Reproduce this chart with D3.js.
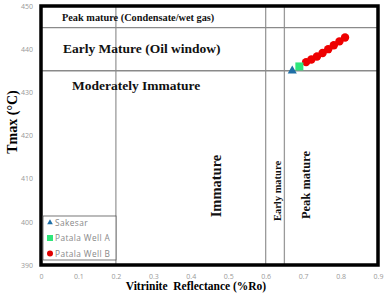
<!DOCTYPE html>
<html>
<head>
<meta charset="utf-8">
<script src="https://cdn.jsdelivr.net/npm/d3@7"></script>
<style>
  body { margin: 0; background: #fff; }
</style>
</head>
<body>
<div id="chart"></div>
<script>
// data
const xTicks = [0, 0.1, 0.2, 0.3, 0.4, 0.5, 0.6, 0.7, 0.8, 0.9];
const yTicks = [390, 400, 410, 420, 430, 440, 450];
const vLines = [0.2, 0.6, 0.65];
const hLines = [445, 435];
const sakesar = [[0.671, 435]];
const patalaA = [[0.69, 436]];
const patalaB = [[0.708, 437], [0.722, 437.6], [0.737, 438.3], [0.752, 439.1],
                 [0.767, 440], [0.782, 440.9], [0.797, 441.8], [0.812, 442.7]];
const legendNames = ["Sakesar", "Patala Well A", "Patala Well B"];

const width = 387, height = 293;
const margin = { top: 6, right: 9, bottom: 28, left: 41 };

const svg = d3.select("#chart").append("svg")
    .attr("width", width)
    .attr("height", height);

const x = d3.scaleLinear().domain([0, 0.9]).range([margin.left, width - margin.right]);
const y = d3.scaleLinear().domain([390, 450]).range([height - margin.bottom, margin.top]);

// grid lines
svg.selectAll(".vl").data(vLines).enter().append("line")
    .attr("x1", d => x(d)).attr("x2", d => x(d))
    .attr("y1", y(450)).attr("y2", y(390))
    .attr("stroke", "#9a9a9a").attr("stroke-width", 1.3);
svg.selectAll(".hl").data(hLines).enter().append("line")
    .attr("x1", x(0)).attr("x2", x(0.9))
    .attr("y1", d => y(d)).attr("y2", d => y(d))
    .attr("stroke", "#8a8a8a").attr("stroke-width", 1.3);

// axes (text only)
const xAxis = svg.append("g")
    .attr("transform", `translate(0, ${y(390)})`)
    .call(d3.axisBottom(x).tickValues(xTicks).tickSize(0).tickPadding(9).tickFormat(d => d === 0 ? "0" : d3.format(".1f")(d)));
const yAxis = svg.append("g")
    .attr("transform", `translate(${x(0)}, 0)`)
    .call(d3.axisLeft(y).tickValues(yTicks).tickSize(0).tickPadding(8));
[xAxis, yAxis].forEach(a => {
    a.select(".domain").remove();
    a.selectAll("text").attr("fill", "#999").style("font-family", "Open Sans, sans-serif").style("font-size", "7px");
});

// frame
svg.append("rect")
    .attr("x", x(0)).attr("y", y(450))
    .attr("width", x(0.9) - x(0)).attr("height", y(390) - y(450))
    .attr("fill", "none").attr("stroke", "#000").attr("stroke-width", 3.5);

// zone labels
const serif = "Liberation Serif, Times New Roman, serif";
const zoneText = (tx, ty, txt, size, rot) => {
    svg.append("text")
        .attr("transform", `translate(${tx},${ty})` + (rot ? " rotate(-90)" : ""))
        .attr("text-anchor", rot ? "middle" : "start")
        .attr("font-family", serif).attr("font-weight", "bold")
        .attr("font-size", size).attr("fill", "#111")
        .text(txt);
};
zoneText(62, 21, "Peak mature (Condensate/wet gas)", 10.3);
zoneText(63, 53, "Early Mature (Oil window)", 13.5);
zoneText(72, 90, "Moderately Immature", 13.5);
zoneText(221, 186, "Immature", 14.5, true);
zoneText(281, 191, "Early mature", 10.5, true);
zoneText(310, 185, "Peak mature", 12.5, true);

// axis titles
svg.append("text")
    .attr("transform", `translate(17, 122) rotate(-90)`)
    .attr("text-anchor", "middle")
    .attr("font-family", serif).attr("font-weight", "bold").attr("font-size", 14)
    .text("Tmax (°C)");
svg.append("text")
    .attr("x", 196).attr("y", 290)
    .attr("text-anchor", "middle")
    .attr("font-family", serif).attr("font-weight", "bold").attr("font-size", 11.5)
    .style("white-space", "pre")
    .text("Vitrinite  Reflectance (%Ro)");

// points
svg.selectAll(".pb").data(patalaB).enter().append("circle")
    .attr("cx", d => x(d[0])).attr("cy", d => y(d[1])).attr("r", 4.2)
    .attr("fill", "#ee0000");
svg.selectAll(".pa").data(patalaA).enter().append("rect")
    .attr("x", d => x(d[0]) - 4).attr("y", d => y(d[1]) - 4)
    .attr("width", 8).attr("height", 8).attr("fill", "#2ee67a");
const tri = d3.symbol().type(d3.symbolTriangle).size(36);
svg.selectAll(".sk").data(sakesar).enter().append("path")
    .attr("transform", d => `translate(${x(d[0])},${y(d[1])})`)
    .attr("d", tri).attr("fill", "#1f6fa6");

// legend
const lg = svg.append("g").attr("transform", "translate(43, 216)");
lg.append("rect").attr("width", 73).attr("height", 44)
    .attr("fill", "#fff").attr("stroke", "#555").attr("stroke-width", 0.8);
const items = lg.selectAll(".li").data(legendNames).enter().append("g")
    .attr("transform", (d, i) => `translate(0, ${6.5 + i * 15.5})`);
items.each(function (d, i) {
    const g = d3.select(this);
    if (i === 0) g.append("path").attr("transform", "translate(7,0)").attr("d", d3.symbol().type(d3.symbolTriangle).size(14)).attr("fill", "#1f6fa6");
    if (i === 1) g.append("rect").attr("x", 4).attr("y", -3).attr("width", 6).attr("height", 6).attr("fill", "#2ee67a");
    if (i === 2) g.append("circle").attr("cx", 7).attr("cy", 0).attr("r", 3).attr("fill", "#e00000");
});
items.append("text")
    .attr("x", 12).attr("y", 3)
    .attr("font-family", "Open Sans, sans-serif").attr("font-size", 8.3)
    .attr("fill", "#888")
    .attr("letter-spacing", 0.4)
    .text(d => d);
</script>
</body>
</html>
